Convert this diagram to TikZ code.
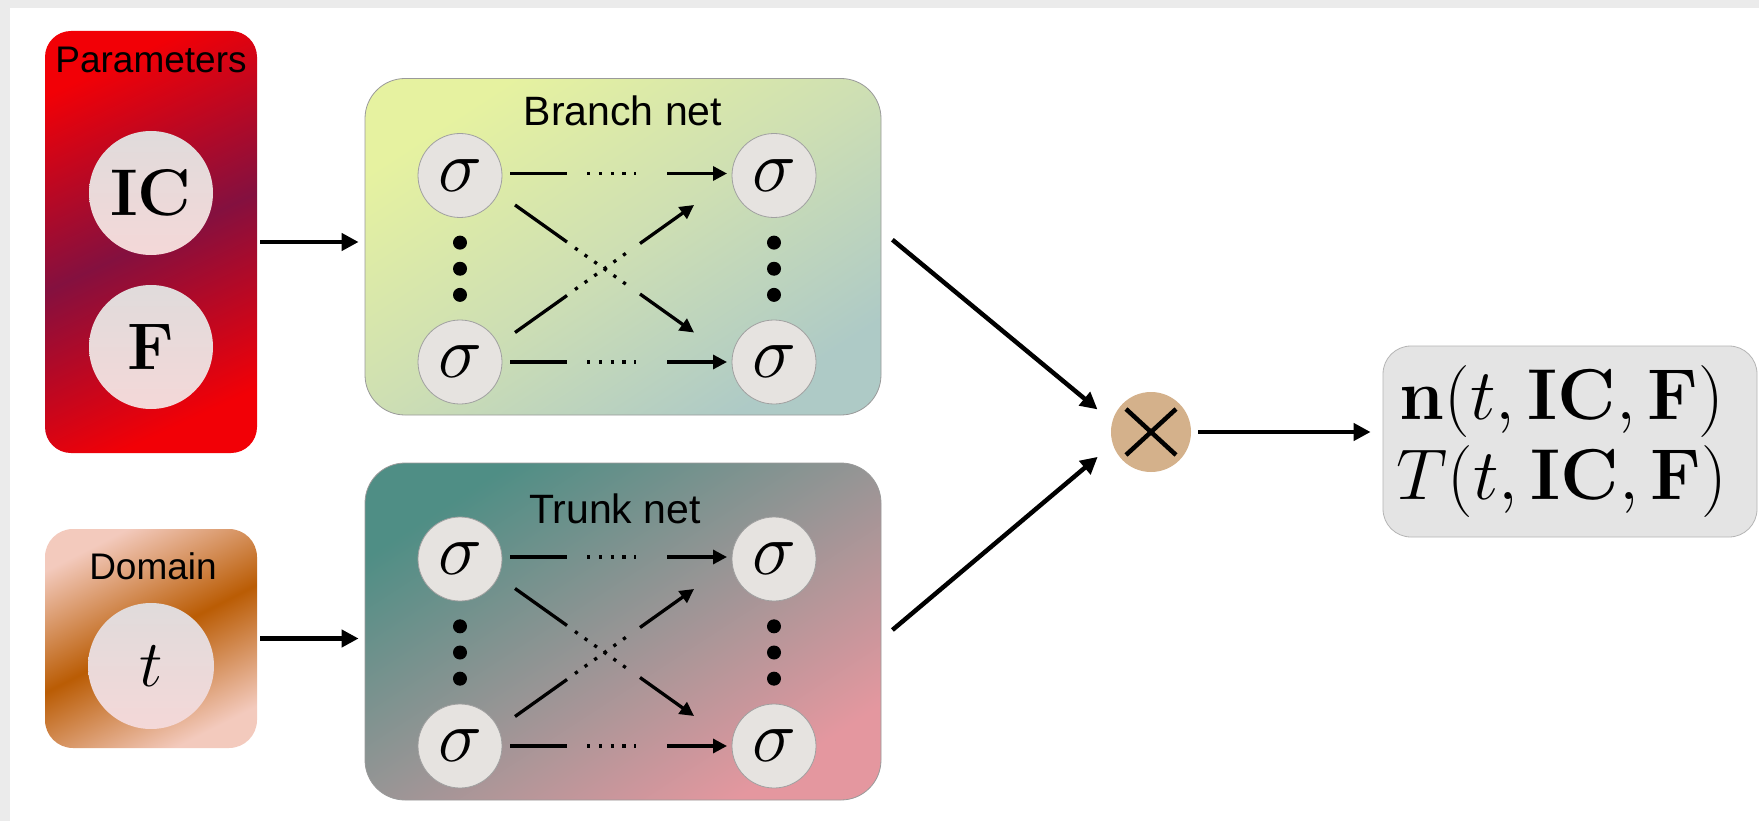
\documentclass[tikz,border=0pt]{standalone}
\usepackage{fix-cm}
\usepackage[no-math]{fontspec}
\newfontfamily\labelfont{Liberation Sans}
\usetikzlibrary{arrows.meta,calc}
\definecolor{bordergray}{HTML}{EBEBEB}
\definecolor{pred}{HTML}{F20006}
\definecolor{ppurp}{HTML}{84103F}
\definecolor{dlight}{HTML}{F3CABD}
\definecolor{dbrown}{HTML}{BA5C04}
\definecolor{btl}{HTML}{E6F2A0}
\definecolor{bmid}{HTML}{CEDFB3}
\definecolor{bbr}{HTML}{AECAC6}
\definecolor{ttl}{HTML}{4F8E85}
\definecolor{tmid}{HTML}{979595}
\definecolor{tbr}{HTML}{E4979F}
\definecolor{circtop}{HTML}{E0DBDB}
\definecolor{circbot}{HTML}{F4D8D8}
\definecolor{sigfill}{HTML}{E6E3E0}
\definecolor{sigdraw}{HTML}{A0A0A0}
\definecolor{timesfill}{HTML}{D4B18B}
\definecolor{outfill}{HTML}{E4E4E4}
\definecolor{outdraw}{HTML}{B5B5B5}
\definecolor{netdraw}{HTML}{9A9A9A}
\newcommand\netguts[3]{%
  \node[sig] (#1tl) at (460,#2) {$\sigma$};
  \node[sig] (#1tr) at (774,#2) {$\sigma$};
  \node[sig] (#1bl) at (460,#3) {$\sigma$};
  \node[sig] (#1br) at (774,#3) {$\sigma$};
  \node[bigdot] (#1la) at ($(#1tl)!0.36!(#1bl)$) {};
  \node[bigdot] (#1lb) at ($(#1tl)!0.5!(#1bl)$) {};
  \node[bigdot] (#1lc) at ($(#1tl)!0.64!(#1bl)$) {};
  \node[bigdot] (#1ra) at ($(#1tr)!0.36!(#1br)$) {};
  \node[bigdot] (#1rb) at ($(#1tr)!0.5!(#1br)$) {};
  \node[bigdot] (#1rc) at ($(#1tr)!0.64!(#1br)$) {};
  % horizontal top
  \draw[inline] ($(#1tl)+(50,-2)$) -- ($(#1tl)+(107,-2)$);
  \draw[indots] ($(#1tl)+(127,-2)$) -- ($(#1tl)+(176,-2)$);
  \draw[inarr] ($(#1tl)+(207,-2)$) -- ($(#1tr)+(-47,-2)$);
  % horizontal bottom
  \draw[inline] ($(#1bl)+(50,0)$) -- ($(#1bl)+(107,0)$);
  \draw[indots] ($(#1bl)+(127,0)$) -- ($(#1bl)+(176,0)$);
  \draw[inarr] ($(#1bl)+(207,0)$) -- ($(#1br)+(-47,0)$);
  % diagonal down
  \draw[inline] ($(#1tl)+(55,29.5)$) -- ($(#1tl)+(107,66.5)$);
  \draw[indots] ($(#1tl)+(115,72.5)$) -- ($(#1tl)+(172,113)$);
  \draw[inarr] ($(#1tl)+(180,118.5)$) -- ($(#1tl)+(234,157)$);
  % diagonal up
  \draw[inline] ($(#1bl)+(55,-29.5)$) -- ($(#1bl)+(107,-66.5)$);
  \draw[indots] ($(#1bl)+(115,-72.5)$) -- ($(#1bl)+(172,-113)$);
  \draw[inarr] ($(#1bl)+(180,-118.5)$) -- ($(#1bl)+(234,-157)$);
}
\begin{document}
\begin{tikzpicture}[x=1pt,y=-1pt,
  arr/.style={line width=4.5pt,-{Triangle[length=17pt,width=17pt]}},
  inarr/.style={line width=3.3pt,-{Triangle[length=14pt,width=14pt]}},
  inline/.style={line width=3.3pt},
  indots/.style={line width=3.3pt,dash pattern=on 3.3pt off 8.5pt},
  sig/.style={circle,minimum size=84pt,inner sep=0pt,fill=sigfill,draw=sigdraw,line width=0.8pt,font=\fontsize{74}{74}\selectfont},
  pcirc/.style={circle,minimum size=124pt,inner sep=0pt,top color=circtop,bottom color=circbot,font=\fontsize{66}{66}\selectfont},
  lbl/.style={font=\labelfont\fontsize{37}{40}\selectfont,inner sep=0pt,anchor=base},
  netlbl/.style={font=\labelfont\fontsize{41}{44}\selectfont,inner sep=0pt,anchor=base},
  bigdot/.style={circle,fill=black,minimum size=14pt,inner sep=0pt},
  boxbase/.style={rectangle,inner sep=0pt},
]
\useasboundingbox (0,0) rectangle (1759,821);
\fill[white] (0,0) rectangle (1759,821);
\fill[bordergray] (0,0) rectangle (1759,8);
\fill[bordergray] (0,0) rectangle (10,821);

% Parameters block
\node[boxbase,rounded corners=26pt,minimum width=212pt,minimum height=422pt,
  top color=pred,bottom color=pred,middle color=ppurp,shading angle=25] (params) at (151,242) {};
\node[lbl] (ptxt) at (151,73) {Parameters};
\node[pcirc] (ic) at (151,193) {$\mathbf{IC}$};
\node[pcirc] (f) at (151,347) {$\mathbf{F}$};

% Domain block
\node[boxbase,rounded corners=28pt,minimum width=212pt,minimum height=219pt,
  top color=dlight,bottom color=dlight,middle color=dbrown,shading angle=27] (domain) at (151,638.5) {};
\node[lbl] (dtxt) at (153,579) {Domain};
\node[pcirc,minimum size=126pt] (t) at (151,666) {$t$};

% Branch net
\node[boxbase,rounded corners=40pt,minimum width=516pt,minimum height=336.5pt,draw=netdraw,line width=0.8pt,
  top color=btl,bottom color=bbr,middle color=bmid,shading angle=33] (branch) at (623,246.75) {};
\node[netlbl] (btxt) at (623,126) {Branch net};
\netguts{b}{175.5}{362}

% Trunk net
\node[boxbase,rounded corners=40pt,minimum width=516pt,minimum height=337pt,draw=netdraw,line width=0.8pt,
  top color=ttl,bottom color=tbr,middle color=tmid,shading angle=33] (trunk) at (623,631.5) {};
\node[netlbl] (ttxt) at (615,523) {Trunk net};
\netguts{k}{559}{746}

% input arrows
\draw[arr,shorten <=3pt,shorten >=6pt] (params.east) -- (params.east -| branch.west);
\draw[arr,shorten <=3pt,shorten >=6pt] (domain.east) -- (domain.east -| trunk.west);

% product
\node[circle,minimum size=80pt,inner sep=0pt,fill=timesfill] (times) at (1151,432) {};
\draw[line width=4.5pt] ($(times)+(-25,-23)$) -- ($(times)+(25,23)$);
\draw[line width=4.5pt] ($(times)+(25,-23)$) -- ($(times)+(-25,23)$);
\coordinate (tin) at ($(times.center)+(-25,1)$);
\coordinate (bstart) at ($(branch.east)+(11,-7)$);
\coordinate (kstart) at ($(trunk.east)+(11,-1.5)$);
\draw[arr,shorten >=37pt] (bstart) -- (tin);
\draw[arr,shorten >=37pt] (kstart) -- (tin);

% output
\node[boxbase,rounded corners=28pt,minimum width=374pt,minimum height=191pt,fill=outfill,draw=outdraw,line width=0.8pt] (out) at (1570,441.5) {};
\node[align=center,inner sep=0pt,font=\fontsize{72}{80}\selectfont] (outtxt) at ($(out.center)+(-8,0)$)
  {$\mathbf{n}(t,\mathbf{IC},\mathbf{F})$\\$T(t,\mathbf{IC},\mathbf{F})$};
\draw[arr,shorten <=7pt,shorten >=12pt] (times.east) -- (times.east -| out.west);
\end{tikzpicture}
\end{document}
